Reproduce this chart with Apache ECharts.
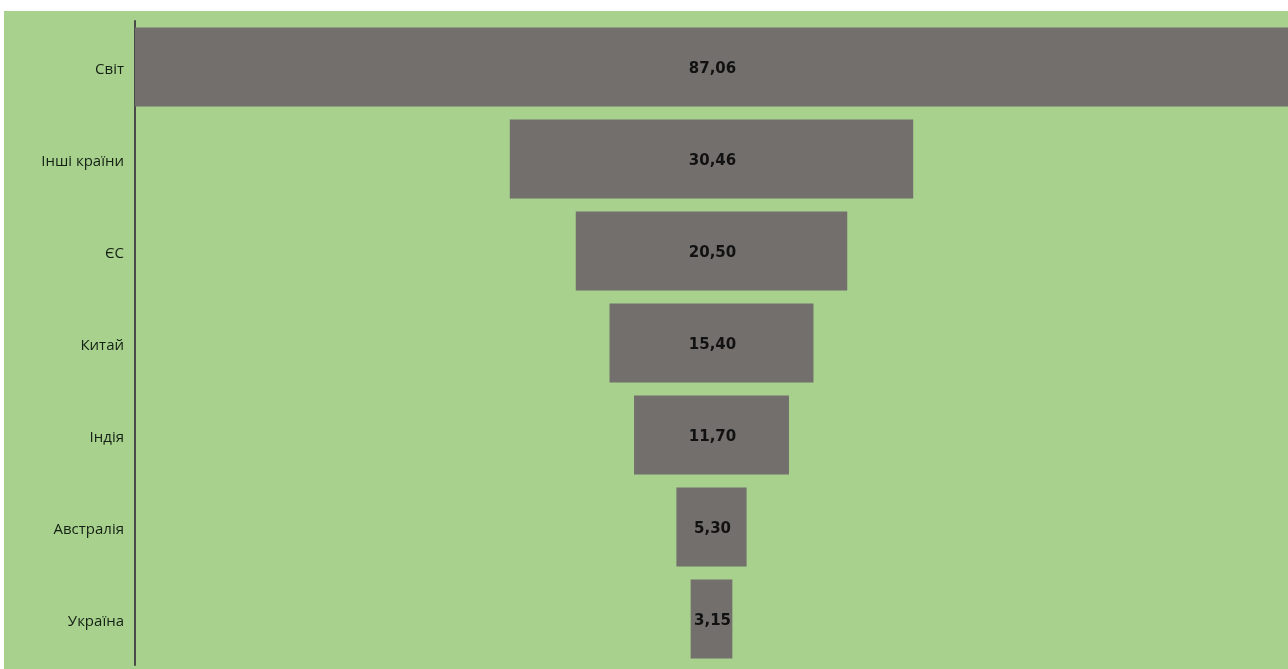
<!DOCTYPE html>
<html>
<head>
<meta charset="utf-8">
<script src="https://cdn.jsdelivr.net/npm/echarts@6/dist/echarts.min.js"></script>
<style>html,body{margin:0;padding:0;background:#fff;}#c{width:1288px;height:669px;}</style>
</head>
<body>
<div id="c"></div>
<script>
const categories = ['Світ', 'Інші країни', 'ЄС', 'Китай', 'Індія', 'Австралія', 'Україна'];
const values = [87.06, 30.46, 20.50, 15.40, 11.70, 5.30, 3.15];

const maxV = Math.max(...values);
const offsets = values.map(v => (maxV - v) / 2);

const chart = echarts.init(document.getElementById('c'));
chart.setOption({
  backgroundColor: '#ffffff',
  animation: false,
  graphic: [{
    type: 'rect', z: -10, silent: true,
    shape: { x: 4, y: 11, width: 1284, height: 658 },
    style: { fill: '#a8d18e' }
  }],
  grid: { left: 135, right: 0, top: 21, height: 644, containLabel: false },
  xAxis: { type: 'value', min: 0, max: maxV, show: false },
  yAxis: {
    type: 'category', data: categories, inverse: true,
    axisTick: { show: false },
    axisLine: { show: true, lineStyle: { color: '#4a4a4a', width: 2 } },
    axisLabel: {
      margin: 11,
      formatter: v => '{a|' + v + '}',
      rich: { a: { color: '#142014', fontSize: 15, fontFamily: 'Open Sans', padding: [6, 0, 0, 0] } }
    },
    splitLine: { show: false }
  },
  series: [
    {
      type: 'bar', stack: 'f', data: offsets, silent: true,
      itemStyle: { color: 'transparent' }, barCategoryGap: '14%'
    },
    {
      type: 'bar', stack: 'f', data: values, barCategoryGap: '14%',
      itemStyle: { color: '#736f6c' },
      label: {
        show: true, position: 'inside', color: '#111', fontWeight: 'bold',
        fontSize: 15, fontFamily: 'DejaVu Sans', offset: [1, 2],
        formatter: p => p.value.toFixed(2).replace('.', ',')
      }
    }
  ]
});
</script>
</body>
</html>
